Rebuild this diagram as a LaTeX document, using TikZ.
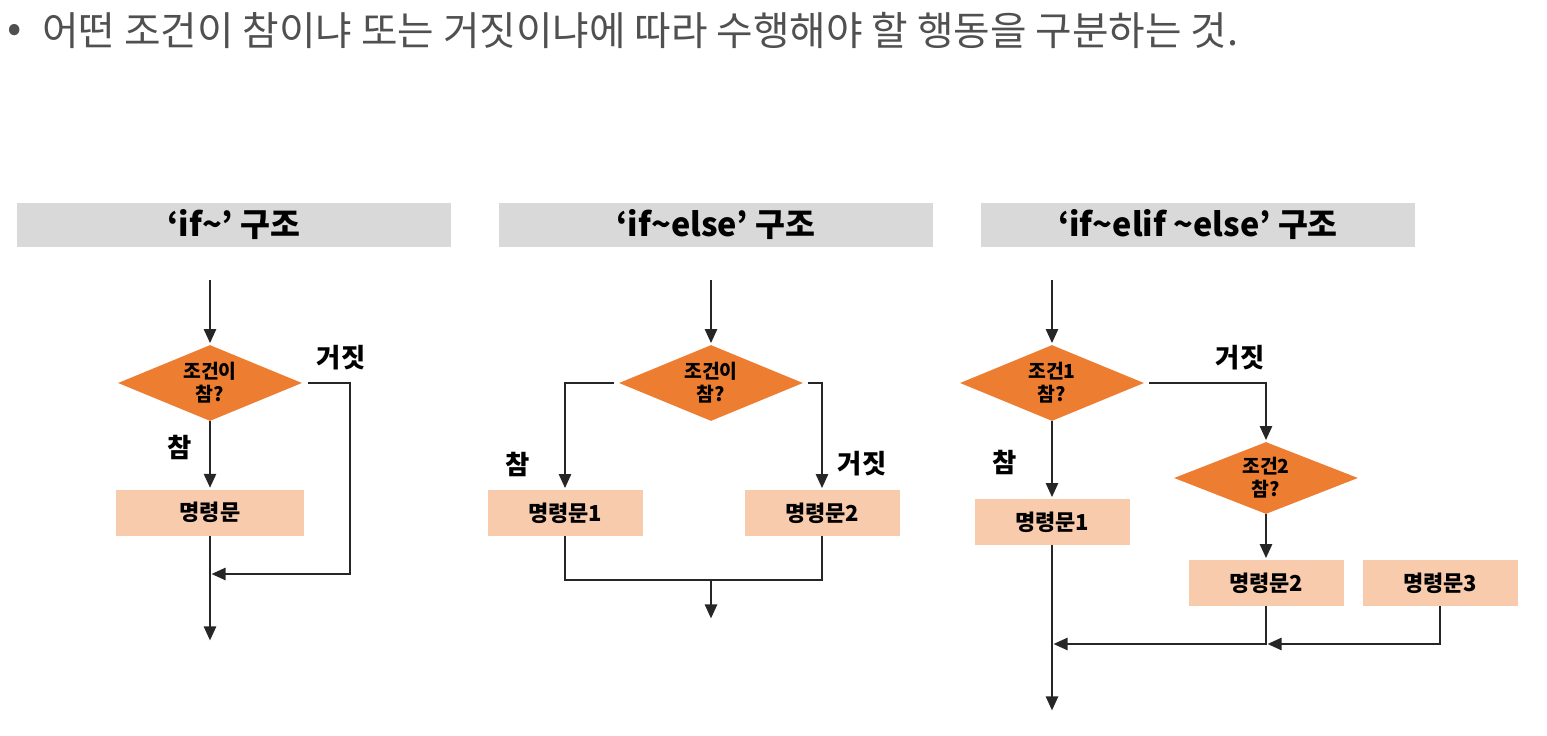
\documentclass[tikz,border=0pt]{standalone}
\usepackage{fontspec}
\setmainfont{Noto Sans CJK KR}
\usetikzlibrary{positioning, arrows.meta, calc, shapes.geometric}
\definecolor{krorange}{HTML}{ED7D31}
\definecolor{krpeach}{HTML}{F8CBAD}
\definecolor{krbargray}{HTML}{D9D9D9}
\definecolor{krline}{HTML}{262626}
\definecolor{krtext}{HTML}{505050}
\tikzset{
  % header bars above each flowchart
  krbar/.style={
    fill=krbargray,
    minimum width=86.8mm,
    minimum height=8.8mm,
    inner sep=0pt,
    font=\bfseries\fontsize{18.5}{20}\selectfont,
  },
  % orange = condition, peach = statement
  krdiamond/.style={
    diamond,
    fill=krorange,
    aspect=2.4,
    inner sep=0pt,
    minimum width=36.8mm,
    minimum height=15.2mm,
    align=center,
    font=\bfseries\fontsize{11}{13}\selectfont,
  },
  krbox/.style={
    fill=krpeach,
    minimum width=31mm,
    minimum height=9.2mm,
    inner sep=0pt,
    font=\bfseries\fontsize{12.5}{14}\selectfont,
  },
  krlabel/.style={font=\bfseries\fontsize{15}{17}\selectfont},
  krwire/.style={line width=1.4pt, draw=krline},
  krarr/.style={-{Triangle[length=2.8mm, width=2.4mm]}, line width=1.4pt, draw=krline,
    shorten >=0.3mm},
}

\begin{document}
\begin{tikzpicture}[x=0.2mm, y=-0.2mm]
  \useasboundingbox (0,0) rectangle (1547,736);

  % --- intro line ---
  \node[text=krtext, font=\fontsize{24}{24}\selectfont] (bullet) at (15,33) {•};
  \node[text=krtext, anchor=west, inner sep=0pt, font=\fontsize{22.6}{26}\selectfont] (intro)
    at (42,30) {어떤 조건이 참이냐 또는 거짓이냐에 따라 수행해야 할 행동을 구분하는 것.};

  % --- headers ---
  \node[krbar] (hA) at (234,225) {‘if\textasciitilde’ 구조};
  \node[krbar] (hB) at (716,225) {‘if\textasciitilde else’ 구조};
  \node[krbar] (hC) at (1198,225) {‘if\textasciitilde elif \textasciitilde else’ 구조};

  % --- if ---
  \coordinate (inA) at (210,280);
  \node[krdiamond] (cA) at (210,383) {조건이\\참?};
  \node[krbox, minimum width=37.6mm, below=13.6mm of cA] (sA) {명령문};
  \coordinate (falseA) at (350,383);
  \coordinate (mergeA) at (210,574);
  \coordinate (outA) at (210,642);
  \node[krlabel] (fA) at (341,358) {거짓};
  \node[krlabel] (tA) at (180,447) {참};

  \draw[krarr] (inA) -- (cA.north);
  \draw[krarr] (cA.south) -- (sA.north);
  \draw[krarr] (sA.south) -- (outA);
  \draw[krarr, shorten <=1.2mm] (cA.east) -- (falseA) |- (mergeA);

  % --- if~else ---
  \coordinate (inB) at (711,280);
  \node[krdiamond] (cB) at (711,383) {조건이\\참?};
  \node[krbox] (sB1) at (565,513) {명령문1};
  \node[krbox] (sB2) at (822,513) {명령문2};
  \coordinate (joinB) at (711,580);
  \coordinate (outB) at (711,620);
  \node[krlabel] (tB) at (518,464) {참};
  \node[krlabel] (fB) at (862,464) {거짓};

  \draw[krarr] (inB) -- (cB.north);
  \draw[krarr, shorten <=1mm] (cB.west) -| (sB1.north);
  \draw[krarr, shorten <=1mm] (cB.east) -| (sB2.north);
  \draw[krwire] (sB1.south) |- (joinB) -| (sB2.south);
  \draw[krarr] (joinB) -- (outB);

  % --- if~elif~else ---
  \coordinate (inC) at (1052,280);
  \node[krdiamond] (cC1) at (1052,383) {조건1\\참?};
  \node[krdiamond, minimum height=14.4mm] (cC2) at (1266,478) {조건2\\참?};
  \node[krbox] (sC1) at (1052,522) {명령문1};
  \node[krbox] (sC2) at (1266,583) {명령문2};
  \node[krbox] (sC3) at (1440,583) {명령문3};
  \coordinate (joinC) at (1266,644);
  \coordinate (outC) at (1052,712);
  \node[krlabel] (fC) at (1240,358) {거짓};
  \node[krlabel] (tC) at (1005,462) {참};

  \draw[krarr] (inC) -- (cC1.north);
  \draw[krarr] (cC1.south) -- (sC1.north);
  \draw[krarr, shorten <=1mm] (cC1.east) -| (cC2.north);
  \draw[krarr] (cC2.south) -- (sC2.north);
  \draw[krarr] (sC1.south) -- (outC);
  \draw[krarr] (sC3.south) |- (joinC);
  \draw[krarr] (sC2.south) -- (joinC) -- (sC1.south |- joinC);
\end{tikzpicture}
\end{document}
